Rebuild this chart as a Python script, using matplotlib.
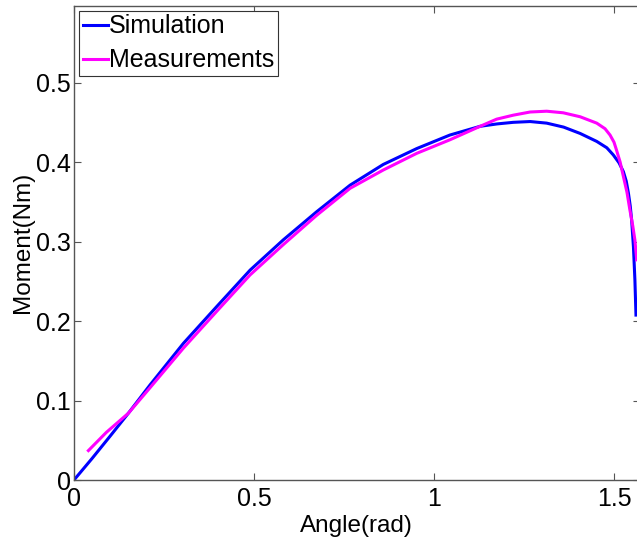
import matplotlib
matplotlib.use("Agg")
import matplotlib.pyplot as plt
import numpy as np

plt.rcParams["font.family"] = ["Liberation Sans", "DejaVu Sans"]

# Simulation curve (angle in rad, moment in Nm)
sim_angle = [0.0, 0.05, 0.10, 0.151, 0.211, 0.304, 0.396, 0.489, 0.581, 0.674,
             0.767, 0.859, 0.952, 1.044, 1.128, 1.175, 1.220, 1.267, 1.313, 1.360,
             1.406, 1.452, 1.480, 1.498, 1.514, 1.526, 1.534, 1.540, 1.545,
             1.549, 1.554, 1.558, 1.561]
sim_moment = [0.0, 0.027, 0.055, 0.084, 0.1195, 0.172, 0.218, 0.264, 0.302, 0.3375,
              0.371, 0.397, 0.417, 0.434, 0.445, 0.448, 0.450, 0.451, 0.449, 0.444,
              0.436, 0.426, 0.418, 0.409, 0.399, 0.388, 0.376, 0.361, 0.345,
              0.327, 0.293, 0.252, 0.2075]

# Measured curve
meas_angle = [0.040, 0.09, 0.151, 0.211, 0.304, 0.396, 0.489, 0.581, 0.674, 0.767,
              0.859, 0.952, 1.044, 1.128, 1.174, 1.220, 1.267, 1.313, 1.359,
              1.406, 1.452, 1.475, 1.489, 1.500, 1.507, 1.517, 1.526, 1.536,
              1.544, 1.552, 1.558, 1.563]
meas_moment = [0.037, 0.060, 0.084, 0.116, 0.166, 0.212, 0.258, 0.296, 0.333, 0.367,
               0.390, 0.411, 0.428, 0.445, 0.454, 0.459, 0.463, 0.464, 0.462,
               0.457, 0.449, 0.442, 0.434, 0.425, 0.415, 0.400, 0.382, 0.362,
               0.340, 0.320, 0.302, 0.277]

fig = plt.figure(figsize=(6.37, 5.44), dpi=100)
ax = fig.add_axes([74 / 637, 64 / 544, 565.5 / 637, 474.5 / 544])

ax.plot(sim_angle, sim_moment, color="#0000ff", lw=2.2, label="Simulation")
ax.plot(meas_angle, meas_moment, color="#ff00ff", lw=2.2, label="Measurements")

ax.set_xlim(0, np.pi / 2)
ax.set_ylim(0, 0.597)
ax.set_xticks([0, 0.5, 1, 1.5])
ax.set_xticklabels(["0", "0.5", "1", "1.5"])
ax.set_yticks([0, 0.1, 0.2, 0.3, 0.4, 0.5])
ax.set_yticklabels(["0", "0.1", "0.2", "0.3", "0.4", "0.5"])
ax.tick_params(direction="in", length=5, width=0.8, color="#555555",
               labelsize=18, top=True, right=True)
ax.tick_params(axis="y", pad=2)
ax.tick_params(axis="x", pad=5)
for s in ax.spines.values():
    s.set_color("#555555")
    s.set_linewidth(1.0)

ax.set_xlabel("Angle(rad)", fontsize=17.5, labelpad=3)
ax.set_ylabel("Moment(Nm)", fontsize=17.5, labelpad=2)

leg = ax.legend(loc="upper left", fontsize=18, handlelength=1.0, handletextpad=0.05,
                borderpad=0.15, labelspacing=0.4, borderaxespad=0.2,
                fancybox=False, framealpha=1)
leg.get_frame().set_edgecolor("#333333")
leg.get_frame().set_linewidth(0.8)

fig.savefig("out.png", dpi=100)
